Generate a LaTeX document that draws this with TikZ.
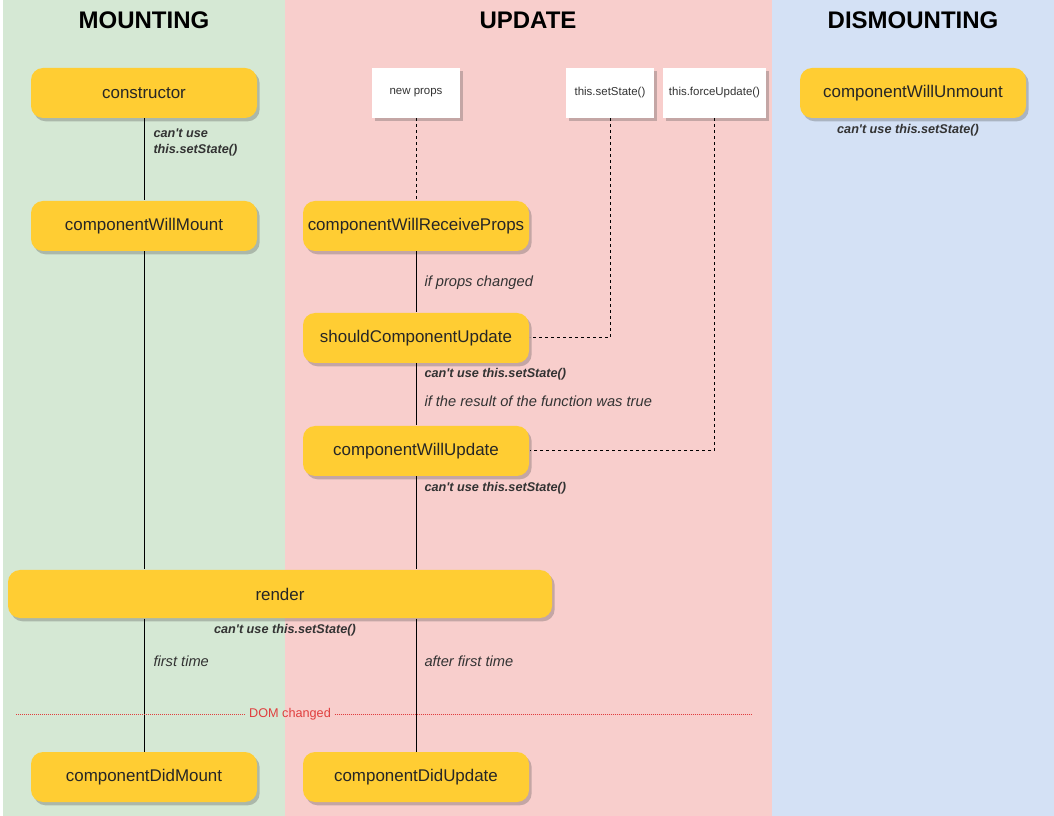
\documentclass[tikz,border=0pt]{standalone}
\usepackage{fontspec}
\setmainfont{Liberation Sans}
\usetikzlibrary{shadows}
\definecolor{mountbg}{HTML}{D5E8D4}
\definecolor{updatebg}{HTML}{F8CECC}
\definecolor{unmountbg}{HTML}{D4E1F5}
\definecolor{hookfill}{HTML}{FFCD33}
\definecolor{domred}{HTML}{E03E3E}
\begin{document}
\begin{tikzpicture}[x=0.75pt, y=-0.75pt, >=stealth, line width=0.75pt]
\tikzstyle{hook}=[rectangle, rounded corners=9pt, fill=hookfill, minimum width=169.5pt, minimum height=37.5pt, font=\fontsize{12.7}{15}\selectfont, text=black!85, drop shadow={shadow xshift=2pt, shadow yshift=-2.5pt, opacity=0.3, fill=black!70}]
\tikzstyle{trigger}=[rectangle, fill=white, minimum height=37.5pt, font=\fontsize{8.6}{10}\selectfont, text=black!80, drop shadow={shadow xshift=2pt, shadow yshift=-2.5pt, opacity=0.3, fill=black!70}]
\tikzstyle{note}=[anchor=west, inner sep=0pt, font=\fontsize{11}{13}\selectfont\itshape, text=black!80]
\tikzstyle{warn}=[note, font=\fontsize{9.5}{12}\selectfont\bfseries\itshape]
\tikzstyle{title}=[font=\fontsize{18}{21}\selectfont\bfseries]
\tikzstyle{flow}=[dash pattern=on 2.25pt off 2.25pt]
\useasboundingbox (0,0) rectangle (1054,816);
% bands
\fill[white] (0,0) rectangle (1054,816);
\fill[mountbg] (3,0) rectangle (285,816);
\fill[updatebg] (285,0) rectangle (772,816);
\fill[unmountbg] (772,0) rectangle (1054,816);
\node[title] (tm) at (144,20) {MOUNTING};
\node[title] (tu) at (528,20) {UPDATE};
\node[title] (td) at (913,20) {DISMOUNTING};
% hooks
\node[hook] (m1) at (144,93) {constructor};
\node[hook] (m2) at (144,226) {componentWillMount};
\node[trigger, minimum width=66pt] (t1) at (416,93) {new props};
\node[trigger, minimum width=66pt] (t2) at (610,93) {this.setState()};
\node[trigger, minimum width=77.25pt] (t3) at (714.5,93) {this.forceUpdate()};
\node[hook] (u1) at (416,226) {componentWillReceiveProps};
\node[hook] (u2) at (416,338) {shouldComponentUpdate};
\node[hook] (u3) at (416,451) {componentWillUpdate};
\node[hook, minimum width=408pt, minimum height=36pt] (r) at (280,594) {render};
\node[hook] (m3) at (144,777) {componentDidMount};
\node[hook] (u4) at (416,777) {componentDidUpdate};
\node[hook] (d1) at (913,93) {componentWillUnmount};
% connectors
\draw (m1.south) -- (m2.north);
\draw (m2.south) -- (m2.south |- r.north);
\draw (m3.north |- r.south) -- (m3.north);
\draw (u1.south) -- (u2.north);
\draw (u2.south) -- (u3.north);
\draw (u3.south) -- (u3.south |- r.north);
\draw (u4.north |- r.south) -- (u4.north);
\draw[flow] (t1.south) -- (u1.north);
\draw[flow] (t2.south) |- (u2.east);
\draw[flow] (t3.south) |- (u3.east);
% labels
\node[warn, align=left] (w1) at (153,142) {can\textquotesingle t use\\this.setState()};
\node[note] (n1) at (424,283) {if props changed};
\node[warn] (w2) at (424,374) {can\textquotesingle t use this.setState()};
\node[note] (n2) at (424,401) {if the result of the function was true};
\node[warn] (w3) at (424,488) {can\textquotesingle t use this.setState()};
\node[warn, anchor=center] (w4) at (285,630) {can\textquotesingle t use this.setState()};
\node[note] (n3) at (153,661) {first time};
\node[note] (n4) at (424,661) {after first time};
\node[warn, anchor=center] (w5) at (908,130) {can\textquotesingle t use this.setState()};
% DOM changed
\node[font=\fontsize{9.5}{11}\selectfont, text=domred, inner sep=2.5pt] (dom) at (290,714) {DOM changed};
\coordinate (domL) at (16,714);
\coordinate (domR) at (752,714);
\draw[domred, line width=0.6pt, dash pattern=on 0.75pt off 0.75pt] (domL) -- (dom.west);
\draw[domred, line width=0.6pt, dash pattern=on 0.75pt off 0.75pt] (dom.east) -- (domR);
\end{tikzpicture}
\end{document}
